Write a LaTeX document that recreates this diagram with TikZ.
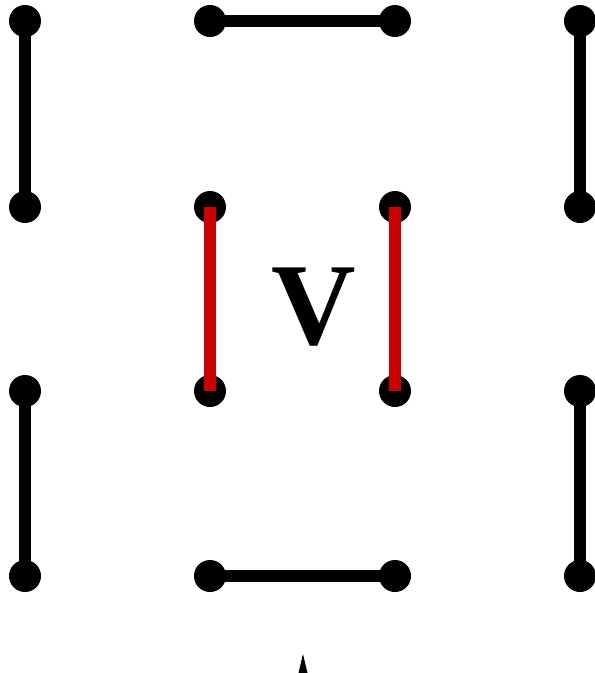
\documentclass[tikz,border=0pt]{standalone}
\usepackage{fontspec}
\setmainfont{Liberation Serif}
\definecolor{edgered}{HTML}{CC0000}
\begin{document}
\begin{tikzpicture}[x=1pt,y=-1pt,
  dot/.style={circle,fill=black,draw=none,minimum size=32pt,inner sep=0pt},
  blackedge/.style={line width=11.5pt,draw=black},
  rededge/.style={line width=11.5pt,draw=edgered,line cap=butt},
  letter/.style={inner sep=0pt,font=\fontsize{117}{117}\selectfont\bfseries}]
\useasboundingbox (0,0) rectangle (595,673);
\coordinate (c00) at (25,21);   \coordinate (c01) at (210,21);  \coordinate (c02) at (395,21);  \coordinate (c03) at (580,21);
\coordinate (c10) at (25,207);  \coordinate (c11) at (210,207); \coordinate (c12) at (395,207); \coordinate (c13) at (580,207);
\coordinate (c20) at (25,391);  \coordinate (c21) at (210,391); \coordinate (c22) at (395,391); \coordinate (c23) at (580,391);
\coordinate (c30) at (25,576);  \coordinate (c31) at (210,576); \coordinate (c32) at (395,576); \coordinate (c33) at (580,576);
\foreach \r in {0,1,2,3}{\foreach \c in {0,1,2,3}{\node[dot] (d\r\c) at (c\r\c) {};}}
\draw[blackedge] (d00.center) -- (d10.center);
\draw[blackedge] (d01.center) -- (d02.center);
\draw[blackedge] (d03.center) -- (d13.center);
\draw[blackedge] (d20.center) -- (d30.center);
\draw[blackedge] (d31.center) -- (d32.center);
\draw[blackedge] (d23.center) -- (d33.center);
\draw[rededge] (d11.center) -- (d21.center);
\draw[rededge] (d12.center) -- (d22.center);
\node[letter] (v) at (314,307) {V};
\fill[black] (303,654) -- (298.5,673) -- (307.5,673) -- cycle;
\end{tikzpicture}
\end{document}
